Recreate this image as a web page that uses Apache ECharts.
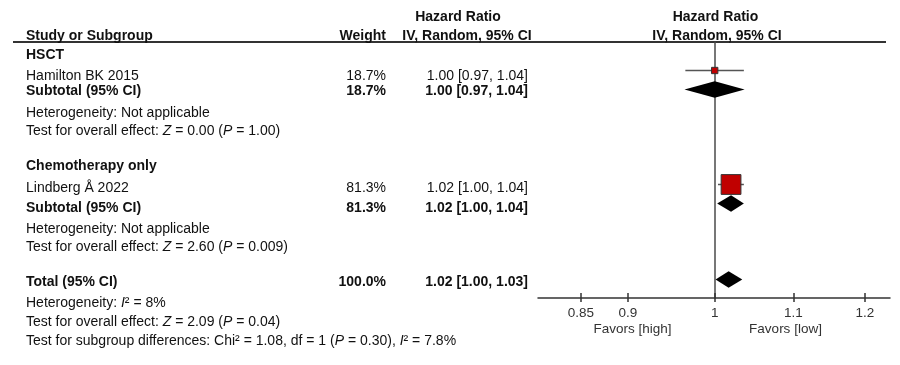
<!DOCTYPE html>
<html><head><meta charset="utf-8">
<script src="https://cdn.jsdelivr.net/npm/echarts@6/dist/echarts.min.js"></script>
<style>html,body{margin:0;padding:0;background:#fff}#c{width:900px;height:365px}</style>
</head><body><div id="c"></div>
<script>
// ---------------- data ----------------
const tableRows = ['HSCT', 'Hamilton BK 2015', 'Subtotal HSCT', 'Het HSCT', 'Test HSCT', '',
  'Chemotherapy only', 'Lindberg Å 2022', 'Subtotal Chemo', 'Het Chemo', 'Test Chemo', '', 'Total'];

const subgroupLabels = ['HSCT', 'Chemotherapy only'];

const studyNames = ['Hamilton BK 2015', 'Lindberg Å 2022'];
const studyWeights = [18.7, 81.3];
const studyHR = [1.00, 1.02];
const studyLower = [0.965, 1.004];
const studyUpper = [1.036, 1.036];
const studyWeightText = ['18.7%', '81.3%'];
const studyCIText = ['1.00 [0.97, 1.04]', '1.02 [1.00, 1.04]'];

const pooledKeys = ['Subtotal HSCT', 'Subtotal Chemo', 'Total'];
const pooledLabels = ['Subtotal (95% CI)', 'Subtotal (95% CI)', 'Total (95% CI)'];
const pooledHR = [1.00, 1.02, 1.017];
const pooledLower = [0.964, 1.003, 1.001];
const pooledUpper = [1.037, 1.036, 1.034];
const pooledWeightText = ['18.7%', '81.3%', '100.0%'];
const pooledCIText = ['1.00 [0.97, 1.04]', '1.02 [1.00, 1.04]', '1.02 [1.00, 1.03]'];

const hetTexts = ['Heterogeneity: Not applicable', 'Heterogeneity: Not applicable', 'Heterogeneity: {i|I}² = 8%'];
const effectTexts = [
  'Test for overall effect: {i|Z} = 0.00 ({i|P} = 1.00)',
  'Test for overall effect: {i|Z} = 2.60 ({i|P} = 0.009)',
  'Test for overall effect: {i|Z} = 2.09 ({i|P} = 0.04)'];
const subgroupDiffText = 'Test for subgroup differences: Chi² = 1.08, df = 1 ({i|P} = 0.30), {i|I}² = 7.8%';

const tickValues = [0.85, 0.9, 1, 1.1, 1.2];
const tickLabels = ['0.85', '0.9', '1', '1.1', '1.2'];
const favorLabels = ['Favors [high]', 'Favors [low]'];
const headerTitle = 'Hazard Ratio';
const headerSub = 'IV, Random, 95% CI';

// ---------------- layout ----------------
const FONT = "'Liberation Sans', Arial, Helvetica, sans-serif";
const axisMinHR = 0.807, axisMaxHR = 1.237;
const DY = 1.5;
const textY = {
  hdr1: 16, hdr2: 34.5,
  'HSCT': 53.5, 'Hamilton BK 2015': 74.5, 'Subtotal HSCT': 89.7, 'Het HSCT': 111.7, 'Test HSCT': 129.7,
  'Chemotherapy only': 164.7, 'Lindberg Å 2022': 186.5, 'Subtotal Chemo': 206.5, 'Het Chemo': 227.7, 'Test Chemo': 245.3,
  'Total': 280.5, 'Het Total': 301.8, 'Test Total': 320.8, 'Subgroup': 339.6
};
const COL_LEFT = 26, COL_WEIGHT = 386, COL_CI = 528;
const sizeFor = w => 2.3 + 0.215 * w;
const rowIdx = key => tableRows.indexOf(key);
const ln = Math.log;

function txt(x, y, text, opts) {
  opts = opts || {};
  const weight = opts.bold ? 'bold' : 'normal';
  const size = opts.size || 14;
  const fill = opts.fill || '#111';
  const align = opts.align || 'left';
  return {
    type: 'text', x: x, y: y + DY, silent: true, z: 100,
    style: {
      text: text, fontSize: size, fontFamily: FONT, fontWeight: weight, fill: fill,
      align: align, textAlign: align, verticalAlign: 'middle', textVerticalAlign: 'middle',
      rich: { i: { fontStyle: 'italic', fontSize: size, fontFamily: FONT, fontWeight: weight, fill: fill } }
    }
  };
}

const graphics = [];
// headers
graphics.push(txt(458, textY.hdr1, headerTitle, { bold: true, align: 'center' }));
graphics.push(txt(467, textY.hdr2, headerSub, { bold: true, align: 'center' }));
graphics.push(txt(715.5, textY.hdr1, headerTitle, { bold: true, align: 'center' }));
graphics.push(txt(717, textY.hdr2, headerSub, { bold: true, align: 'center' }));
graphics.push(txt(COL_LEFT, textY.hdr2, 'Study or Subgroup', { bold: true }));
graphics.push(txt(COL_WEIGHT, textY.hdr2, 'Weight', { bold: true, align: 'right' }));
graphics.push({ type: 'line', silent: true, shape: { x1: 13, y1: 42, x2: 886, y2: 42 },
  style: { stroke: '#333', lineWidth: 1.8 } });
// subgroup titles
graphics.push(txt(COL_LEFT, textY['HSCT'], subgroupLabels[0], { bold: true }));
graphics.push(txt(COL_LEFT, textY['Chemotherapy only'], subgroupLabels[1], { bold: true }));
// study rows
studyNames.forEach((n, i) => {
  graphics.push(txt(COL_LEFT, textY[n], n));
  graphics.push(txt(COL_WEIGHT, textY[n], studyWeightText[i], { align: 'right' }));
  graphics.push(txt(COL_CI, textY[n], studyCIText[i], { align: 'right' }));
});
// pooled rows
pooledKeys.forEach((k, i) => {
  graphics.push(txt(COL_LEFT, textY[k], pooledLabels[i], { bold: true }));
  graphics.push(txt(COL_WEIGHT, textY[k], pooledWeightText[i], { bold: true, align: 'right' }));
  graphics.push(txt(COL_CI, textY[k], pooledCIText[i], { bold: true, align: 'right' }));
});
// stats lines
['Het HSCT', 'Het Chemo', 'Het Total'].forEach((k, i) => graphics.push(txt(COL_LEFT, textY[k], hetTexts[i])));
['Test HSCT', 'Test Chemo', 'Test Total'].forEach((k, i) => graphics.push(txt(COL_LEFT, textY[k], effectTexts[i])));
graphics.push(txt(COL_LEFT, textY.Subgroup, subgroupDiffText));
// favors labels
graphics.push(txt(632.5, 327.5, favorLabels[0], { size: 13.5, fill: '#333', align: 'center' }));
graphics.push(txt(785.5, 327.5, favorLabels[1], { size: 13.5, fill: '#333', align: 'center' }));

// series data
const studyData = studyNames.map((n, i) => [ln(studyHR[i]), ln(studyLower[i]), ln(studyUpper[i]), studyWeights[i], rowIdx(n)]);
const pooledData = pooledKeys.map((k, i) => [ln(pooledHR[i]), ln(pooledLower[i]), ln(pooledUpper[i]), rowIdx(k)]);

const tickLn = tickValues.map(ln);
const labelFor = v => {
  let best = 0;
  tickLn.forEach((t, i) => { if (Math.abs(t - v) < Math.abs(tickLn[best] - v)) best = i; });
  return tickLabels[best];
};

const chart = echarts.init(document.getElementById('c'), null, { renderer: 'canvas' });
chart.setOption({
  animation: false,
  backgroundColor: '#fff',
  grid: { left: 538, right: 10, top: 42, bottom: 67, containLabel: false, outerBoundsMode: 'none' },
  xAxis: [{
    type: 'value', min: ln(axisMinHR), max: ln(axisMaxHR), position: 'bottom',
    axisLine: { show: true, onZero: false, lineStyle: { color: '#333', width: 1.5 } },
    axisTick: { show: true, inside: true, length: 5, customValues: tickLn, lineStyle: { color: '#333', width: 1.5 } },
    axisLabel: { show: true, customValues: tickLn, formatter: labelFor, margin: 8, color: '#333',
      fontSize: 13.5, fontFamily: FONT },
    splitLine: { show: false }
  }, {
    type: 'value', min: ln(axisMinHR), max: ln(axisMaxHR), position: 'bottom',
    axisLine: { show: false, onZero: false },
    axisTick: { show: true, inside: false, length: 4, customValues: tickLn, lineStyle: { color: '#333', width: 1.5 } },
    axisLabel: { show: false },
    splitLine: { show: false }
  }],
  yAxis: {
    type: 'value', inverse: true, min: -0.5, max: 12.974,
    axisLine: { show: true, onZero: true, lineStyle: { color: '#4a4a4a', width: 1.5 } },
    axisTick: { show: false }, axisLabel: { show: false }, splitLine: { show: false }
  },
  graphic: graphics,
  series: [{
    type: 'custom', xAxisIndex: 0, data: studyData, z: 10,
    renderItem: function (params, api) {
      const y = api.value(4);
      const lo = api.coord([api.value(1), y]);
      const hi = api.coord([api.value(2), y]);
      const c = api.coord([api.value(0), y]);
      const s = sizeFor(api.value(3));
      return { type: 'group', children: [
        { type: 'line', shape: { x1: lo[0], y1: lo[1], x2: hi[0], y2: hi[1] }, style: { stroke: '#555', lineWidth: 1.5 } },
        { type: 'rect', shape: { x: c[0] - s / 2, y: c[1] - s / 2, width: s, height: s },
          style: { fill: '#C00000', stroke: '#333', lineWidth: 1 } }
      ] };
    }
  }, {
    type: 'custom', xAxisIndex: 0, data: pooledData, z: 10,
    renderItem: function (params, api) {
      const y = api.value(3);
      const lo = api.coord([api.value(1), y]);
      const hi = api.coord([api.value(2), y]);
      const c = api.coord([api.value(0), y]);
      const h = 8.3;
      return { type: 'polygon', shape: { points: [[lo[0], c[1]], [c[0], c[1] - h], [hi[0], c[1]], [c[0], c[1] + h]] },
        style: { fill: '#000' } };
    }
  }]
});
</script>
</body></html>
